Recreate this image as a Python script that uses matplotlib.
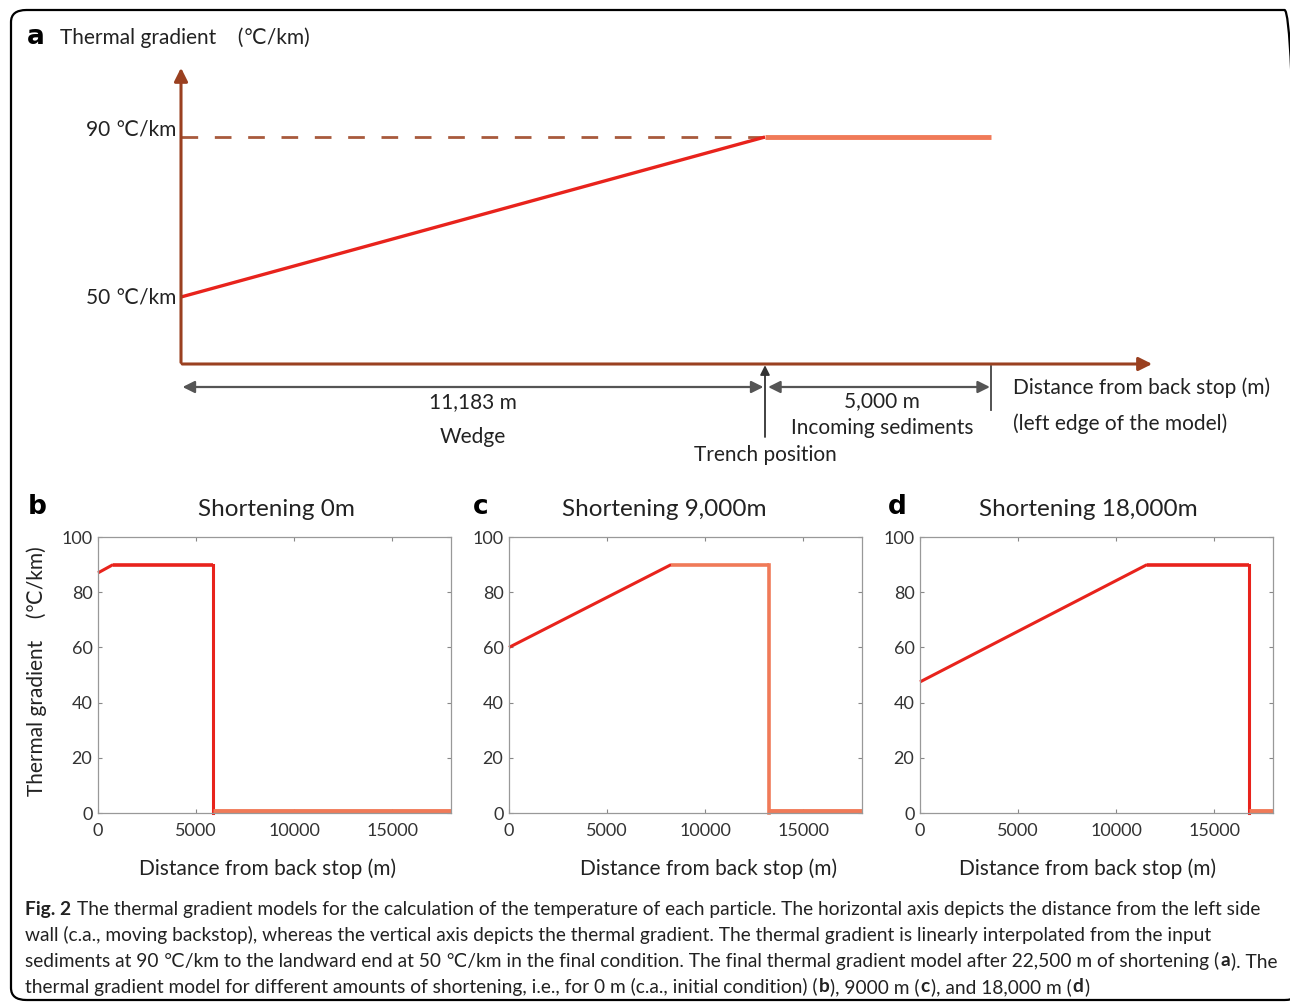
import matplotlib
matplotlib.use("Agg")
import matplotlib.pyplot as plt
from matplotlib.patches import FancyBboxPatch

W, H = 1290, 1006
FONT = ['Lato', 'DejaVu Sans']
plt.rcParams['font.family'] = FONT

# panel a (schematic, metres / degC per km)
a_wedge_m = 11183
a_sed_end = 15510          # schematic end of incoming sediments
a_axis_end = 18650
a_grad_x = [0, a_wedge_m]
a_grad_y = [50, 90]
a_flat_x = [a_wedge_m, a_sed_end]
a_flat_y = [90, 90]
a_ticks = [50, 90]
a_ticklabels = ['50 \u2103/km', '90 \u2103/km']

# panels b-d: (letter, title, x, y, drop position)
panels = [
    ('b', 'Shortening 0m', [0, 770, 5880], [87, 90, 90], 5880),
    ('c', 'Shortening 9,000m', [0, 8270, 13280], [60, 90, 90], 13280),
    ('d', 'Shortening 18,000m', [0, 11580, 16760], [47.5, 90, 90], 16760),
]
x_max = 18000
xticks = [0, 5000, 10000, 15000]
yticks = [0, 20, 40, 60, 80, 100]

RED = '#e8231c'
ORANGE = '#f07a58'
BROWN = '#9a4020'
TXT = '#222'
FS_A = 15

def fx(x):
    return x / W

def fy(y):
    return 1 - y / H

fig = plt.figure(figsize=(W / 100, H / 100), dpi=100)

# rounded frame
frame = FancyBboxPatch((fx(11), fy(1000)), fx(1300 - 11), (1000 - 10) / H,
                       boxstyle='round,pad=0,rounding_size=0.012',
                       transform=fig.transFigure, fill=False, ec='black', lw=1.6)
fig.patches.append(frame)

# ---------------- panel a ----------------
k = (765 - 181) / a_wedge_m
axa = fig.add_axes([fx(181), fy(470), (1160 - 181) / W, (470 - 60) / H])
axa.set_xlim(0, (1160 - 181) / k)
axa.set_ylim(6.75, 109.25)
axa.axis('off')
y0 = 33.25

axa.plot([0, a_wedge_m], [90, 90], ls=(0, (6, 6)), color='#a85a3c', lw=2)
axa.plot(a_grad_x, a_grad_y, color=RED, lw=2.4, solid_capstyle='butt')
axa.plot(a_flat_x, a_flat_y, color=ORANGE, lw=3.5, solid_capstyle='butt')

axa.annotate('', xy=(0, 108), xytext=(0, y0 - 0.3),
             arrowprops=dict(arrowstyle='-|>', color=BROWN, lw=2.2, mutation_scale=20))
axa.annotate('', xy=(a_axis_end, y0), xytext=(-30, y0),
             arrowprops=dict(arrowstyle='-|>', color=BROWN, lw=2.2, mutation_scale=20))

for v, lab in zip(a_ticks, a_ticklabels):
    axa.text(-90, v + (2 if v == 90 else 0), lab, ha='right', va='center', fontsize=FS_A, color=TXT)

yd = 27.5
axa.annotate('', xy=(30, yd), xytext=(a_wedge_m - 30, yd),
             arrowprops=dict(arrowstyle='<|-|>', color='#555', lw=1.6, mutation_scale=18,
                             shrinkA=0, shrinkB=0))
axa.annotate('', xy=(a_wedge_m + 60, yd), xytext=(a_sed_end - 20, yd),
             arrowprops=dict(arrowstyle='<|-|>', color='#555', lw=1.6, mutation_scale=18,
                             shrinkA=0, shrinkB=0))
axa.annotate('', xy=(a_wedge_m, y0 - 0.3), xytext=(a_wedge_m, 15),
             arrowprops=dict(arrowstyle='-|>', color='#333', lw=1.3, mutation_scale=14,
                             shrinkA=0, shrinkB=0))
axa.plot([a_sed_end, a_sed_end], [32.75, 21.75], color='#444', lw=1.3)

axa.text(a_wedge_m / 2, 23.75, '11,183 m', ha='center', va='center', fontsize=FS_A, color=TXT)
axa.text(a_wedge_m / 2, 15, 'Wedge', ha='center', va='center', fontsize=FS_A, color=TXT)
axa.text((a_wedge_m + a_sed_end) / 2 + 80, 24, '5,000 m', ha='center', va='center', fontsize=FS_A, color=TXT)
axa.text((a_wedge_m + a_sed_end) / 2 + 80, 17.2, 'Incoming sediments', ha='center', va='center',
         fontsize=FS_A, color=TXT)
axa.text(a_wedge_m, 10.6, 'Trench position', ha='center', va='center', fontsize=FS_A, color=TXT)
fig.text(fx(1013), fy(388), 'Distance from back stop (m)', ha='left', va='center', fontsize=FS_A, color=TXT)
fig.text(fx(1013), fy(424), '(left edge of the model)', ha='left', va='center', fontsize=FS_A, color=TXT)

fig.text(fx(27), fy(37), 'a', ha='left', va='center', fontsize=19, fontweight='bold',
         family=['DejaVu Sans'])
fig.text(fx(60), fy(38), 'Thermal gradient    (\u2103/km)', ha='left', va='center', fontsize=FS_A,
         color=TXT)

# ---------------- panels b-d ----------------
lefts = [98, 509, 920]
title_x = [276, 664, 1088]
xlab_x = [268, 709, 1088]
letter_x = [37, 481, 897]
for (letter, title, xs, ys, xdrop), left, tx, lx, ltx in zip(panels, lefts, title_x, xlab_x, letter_x):
    ax = fig.add_axes([fx(left), fy(813), 353 / W, (813 - 537) / H])
    ax.set_xlim(0, x_max)
    ax.set_ylim(0, 100)
    flat_col = ORANGE if letter == 'c' else RED
    ax.plot(xs[:2], ys[:2], color=RED, lw=2.2, solid_capstyle='butt', clip_on=False)
    ax.plot(xs[1:], ys[1:], color=flat_col, lw=2.6, solid_capstyle='butt', clip_on=False)
    ax.plot([xdrop, xdrop], [90, 0], color=flat_col, lw=2.6 if letter == 'c' else 2.2, clip_on=False)
    ax.plot([xdrop, x_max], [0.8, 0.8], color=ORANGE, lw=3.5, solid_capstyle='butt', clip_on=False)
    ax.set_xticks(xticks)
    ax.set_yticks(yticks)
    ax.tick_params(direction='in', length=3, top=True, right=True, labelsize=13,
                   labelcolor='#333', color='#888', width=0.8)
    ax.tick_params(axis='x', pad=7)
    ax.tick_params(axis='y', pad=4)
    for s in ax.spines.values():
        s.set_color('#999')
        s.set_linewidth(0.9)
    fig.text(fx(tx), fy(509), title, ha='center', va='center', fontsize=17.5, color=TXT)
    fig.text(fx(lx), fy(869), 'Distance from back stop (m)', ha='center', va='center',
             fontsize=15, color=TXT)
    fig.text(fx(ltx), fy(507), letter, ha='center', va='center', fontsize=19, fontweight='bold',
             family=['DejaVu Sans'])

fig.text(fx(37), fy(671), 'Thermal gradient    (\u2103/km)', ha='center', va='center',
         rotation=90, fontsize=15, color=TXT)

# ---------------- caption ----------------
renderer = fig.canvas.get_renderer()
caption = [
    (909, [('Fig. 2', True), (' The thermal gradient models for the calculation of the temperature of each particle. '
                               'The horizontal axis depicts the distance from the left side', False)]),
    (935, [('wall (c.a., moving backstop), whereas the vertical axis depicts the thermal gradient. '
            'The thermal gradient is linearly interpolated from the input', False)]),
    (961, [('sediments at 90 \u2103/km to the landward end at 50 \u2103/km in the final condition. '
            'The final thermal gradient model after 22,500 m of shortening (', False), ('a', True),
           ('). The', False)]),
    (987, [('thermal gradient model for different amounts of shortening, i.e., for 0 m (c.a., initial condition) (',
            False), ('b', True), ('), 9000 m (', False), ('c', True), ('), and 18,000 m (', False),
           ('d', True), (')', False)]),
]


def draw_line(y, parts, size, draw=True):
    sp = fig.text(0, 0, 'a a', fontsize=size)
    sp2 = fig.text(0, 0, 'aa', fontsize=size)
    space_w = sp.get_window_extent(renderer).width - sp2.get_window_extent(renderer).width
    sp.remove()
    sp2.remove()
    x = 25
    for s, bold in parts:
        if s.startswith(' '):
            x += space_w
            s = s[1:]
        t = fig.text(fx(x), fy(y), s, ha='left', va='center', fontsize=size,
                     fontweight='bold' if bold else 'normal', color=TXT)
        x += t.get_window_extent(renderer).width + 1
        if not draw:
            t.remove()
    return x


# fit the first caption line to the width it has in the figure
w12 = draw_line(0, caption[0][1], 12, draw=False) - 25
CAP = 12 * (1262 - 25) / w12
for y, parts in caption:
    draw_line(y, parts, CAP)

fig.savefig('out.png', dpi=100)
